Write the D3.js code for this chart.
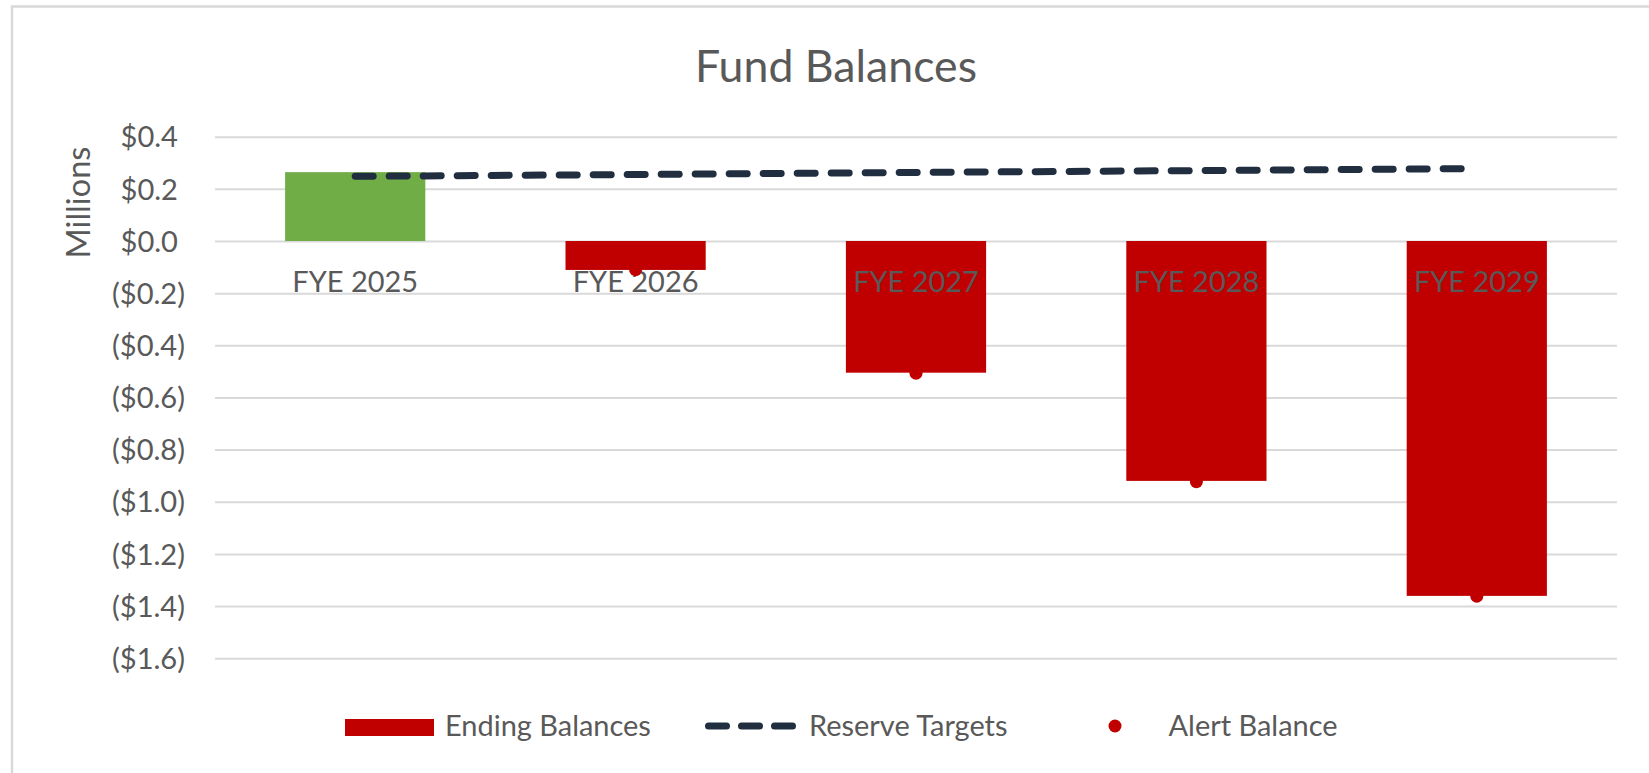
<!DOCTYPE html>
<html>
<head>
<meta charset="utf-8">
<script src="https://cdn.jsdelivr.net/npm/d3@7"></script>
<style>
  html, body { margin: 0; padding: 0; background: #ffffff; overflow: hidden; }
  svg { display: block; }
  text { font-family: Lato, "Open Sans", sans-serif; fill: #595959; }
</style>
</head>
<body>
<svg id="chart" width="1649" height="773"></svg>
<script>
// ---- data ----
const categories = ["FYE 2025", "FYE 2026", "FYE 2027", "FYE 2028", "FYE 2029"];
const endingBalances = [0.264, -0.111, -0.505, -0.920, -1.361];
const reserveTargets = [0.248, 0.255, 0.263, 0.270, 0.278];
const alertBalances = [null, -0.110, -0.507, -0.923, -1.362];
const yTicks = [0.4, 0.2, 0.0, -0.2, -0.4, -0.6, -0.8, -1.0, -1.2, -1.4, -1.6];
const legendLabels = ["Ending Balances", "Reserve Targets", "Alert Balance"];
const titleText = "Fund Balances";
const yAxisTitle = "Millions";

// ---- layout ----
const W = 1649, H = 773;
const plotLeft = 215, plotRight = 1617, plotTop = 136.7, plotBottom = 658.2;
const RED = "#c00000", GREEN = "#70ad47", NAVY = "#212e40", GRID = "#d9d9d9";

const svg = d3.select("#chart");

// helper to fit a font size to a target width
function fitSize(str, targetWidth) {
  const t = svg.append("text").attr("font-size", 100).text(str);
  const w = t.node().getComputedTextLength();
  t.remove();
  return 100 * targetWidth / w;
}
const baseSize = fitSize("Ending Balances", 206);
const tickSize = fitSize("($1.6)", 73);
const titleSize = fitSize(titleText, 282);
const yTitleSize = fitSize(yAxisTitle, 112);

// chart border
svg.append("rect")
  .attr("x", 12).attr("y", 6.5)
  .attr("width", W + 20).attr("height", H + 20)
  .attr("fill", "none").attr("stroke", GRID).attr("stroke-width", 2.5);

// scales
const x = d3.scaleBand().domain(categories).range([plotLeft, plotRight])
  .paddingInner(0.5).paddingOuter(0.25);
const y = d3.scaleLinear().domain([-1.6, 0.4]).range([plotBottom, plotTop]);

const fmt = v => {
  const a = Math.abs(v).toFixed(1);
  return v < -1e-9 ? "($" + a + ")" : "$" + a;
};

// y axis with gridlines
const yAxis = svg.append("g")
  .attr("transform", `translate(${plotLeft},0)`)
  .call(d3.axisLeft(y).tickValues(yTicks).tickFormat(fmt)
    .tickSize(-(plotRight - plotLeft)).tickPadding(30));
yAxis.select(".domain").remove();
yAxis.selectAll(".tick line").attr("stroke", GRID).attr("stroke-width", 2);
yAxis.selectAll(".tick text")
  .attr("font-size", tickSize)
  .attr("fill", "#595959")
  .attr("font-family", "Lato, 'Open Sans', sans-serif")
  .attr("dy", "0.35em")
  .attr("x", d => d >= 0 ? -37 : -30);

// bars
svg.append("g").selectAll("rect")
  .data(categories.map((c, i) => ({ c, v: endingBalances[i] })))
  .join("rect")
  .attr("x", d => x(d.c))
  .attr("width", x.bandwidth())
  .attr("y", d => y(Math.max(0, d.v)))
  .attr("height", d => Math.abs(y(d.v) - y(0)))
  .attr("fill", d => d.v >= 0 ? GREEN : RED);

// category labels (axis at zero)
const xAxis = svg.append("g")
  .attr("transform", `translate(0,${y(0)})`)
  .call(d3.axisBottom(x).tickSize(0).tickPadding(0));
xAxis.select(".domain").remove();
xAxis.selectAll(".tick text")
  .attr("font-size", baseSize)
  .attr("fill", "#595959")
  .attr("font-family", "Lato, 'Open Sans', sans-serif")
  .attr("y", 50.7).attr("dy", 0);

// reserve targets line
const line = d3.line()
  .x((d, i) => x(categories[i]) + x.bandwidth() / 2)
  .y(d => y(d));
svg.append("path")
  .datum(reserveTargets)
  .attr("d", line)
  .attr("fill", "none")
  .attr("stroke", NAVY)
  .attr("stroke-width", 7)
  .attr("stroke-linecap", "round")
  .attr("stroke-dasharray", "18 16");

// alert balance dots
svg.append("g").selectAll("circle")
  .data(categories.map((c, i) => ({ c, v: alertBalances[i] })).filter(d => d.v !== null))
  .join("circle")
  .attr("cx", d => x(d.c) + x.bandwidth() / 2)
  .attr("cy", d => y(d.v))
  .attr("r", 6.5)
  .attr("fill", RED);

// title
svg.append("text")
  .attr("x", 836).attr("y", 81.7)
  .attr("text-anchor", "middle")
  .attr("font-size", titleSize)
  .text(titleText);

// y axis title
svg.append("text")
  .attr("transform", "translate(90,202.5) rotate(-90)")
  .attr("text-anchor", "middle")
  .attr("font-size", yTitleSize)
  .text(yAxisTitle);

// legend
const leg = svg.append("g");
const legY = 726;
leg.append("rect").attr("x", 345).attr("y", 719).attr("width", 89).attr("height", 17).attr("fill", RED);
leg.append("path").attr("d", `M708.5,${legY}H793`)
  .attr("stroke", NAVY).attr("stroke-width", 7).attr("stroke-linecap", "round")
  .attr("stroke-dasharray", "18 15").attr("fill", "none");
leg.append("circle").attr("cx", 1115).attr("cy", legY).attr("r", 6.5).attr("fill", RED);
const legTextX = [445, 809, 1168.5];
leg.selectAll("text.lt").data(legendLabels).join("text")
  .attr("class", "lt")
  .attr("x", (d, i) => legTextX[i])
  .attr("y", 735.7)
  .attr("font-size", baseSize)
  .text(d => d);
</script>
</body>
</html>
